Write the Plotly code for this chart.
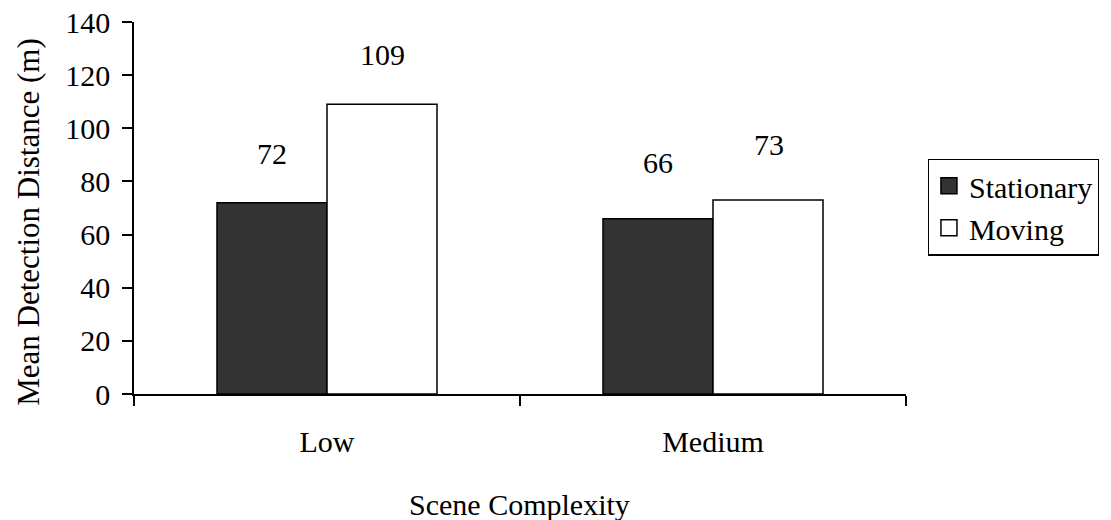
import plotly.graph_objects as go

categories = ["Low", "Medium"]
stationary = [72, 66]
moving = [109, 73]
series_names = ["Stationary", "Moving"]
series_colors = ["#333333", "white"]
y_ticks = [0, 20, 40, 60, 80, 100, 120, 140]

FONT = "Liberation Serif"
FS = 30

# plot area in page pixels
L, R, T, B = 134, 915, 22.3, 394.5
W, H = 1111, 520
PW, PH = R - L, B - T

fig = go.Figure()
for name, vals, col in zip(series_names, [stationary, moving], series_colors):
    fig.add_trace(go.Bar(name=name, x=categories, y=vals, showlegend=False,
                         marker=dict(color=col, line=dict(color="black", width=1.5))))
# legend entries with larger square swatches
for name, col in zip(series_names, series_colors):
    fig.add_trace(go.Scatter(name=name, x=[None], y=[None], mode="markers",
                             marker=dict(symbol="square", size=16, color=col,
                                         line=dict(color="black", width=1.5))))

# value labels
label_shift = {0: [48, 55], 1: [49, 55]}
for si, vals in enumerate([stationary, moving]):
    for ci, v in enumerate(vals):
        fig.add_annotation(x=categories[ci], y=v, xref="x", yref="y", text=str(v),
                           showarrow=False, xshift=(-55.5 if si == 0 else 55.5),
                           yshift=label_shift[si][ci] + 1, yanchor="middle",
                           font=dict(family=FONT, size=FS, color="black"))

fig.add_annotation(text="Mean Detection Distance (m)", xref="paper", yref="paper",
                   x=(27 - L) / PW, y=(B - 222) / PH, textangle=-90,
                   showarrow=False, xanchor="center", yanchor="middle",
                   font=dict(family=FONT, size=31, color="black"))
fig.add_annotation(text="Scene Complexity", xref="paper", yref="paper",
                   x=(524 - L) / PW, y=(B - 505) / PH, showarrow=False,
                   xanchor="center", yanchor="middle",
                   font=dict(family=FONT, size=FS, color="black"))

fig.update_layout(
    template="none",
    width=W, height=H,
    margin=dict(l=L, r=W - R, t=T, b=H - B, pad=0),
    paper_bgcolor="white", plot_bgcolor="white",
    barmode="group", bargap=0.43, bargroupgap=0,
    font=dict(family=FONT, size=FS, color="black"),
    showlegend=True,
    legend=dict(x=(937 - L) / PW, y=(B - 159) / PH, xanchor="left", yanchor="top",
                bordercolor="black", borderwidth=1.2, bgcolor="white",
                font=dict(family=FONT, size=FS, color="black"),
                itemwidth=30, tracegroupgap=0),
    xaxis=dict(showline=True, linecolor="black", linewidth=1.5, automargin=False,
               ticks="outside", tickson="boundaries", ticklen=10, tickwidth=1.5,
               tickcolor="black", showgrid=False, ticklabelstandoff=20,
               ticklabeloverflow="allow"),
    yaxis=dict(range=[0, 140], tickvals=y_ticks, showline=True, linecolor="black",
               linewidth=1.5, ticks="outside", ticklen=10, tickwidth=1.5, automargin=False,
               tickcolor="black", showgrid=False, zeroline=False,
               ticklabelstandoff=6, ticklabeloverflow="allow"),
)

fig.write_html("out.html", config={"displayModeBar": False},
               post_script="document.body.style.margin='0px';document.body.style.overflow='hidden';")
